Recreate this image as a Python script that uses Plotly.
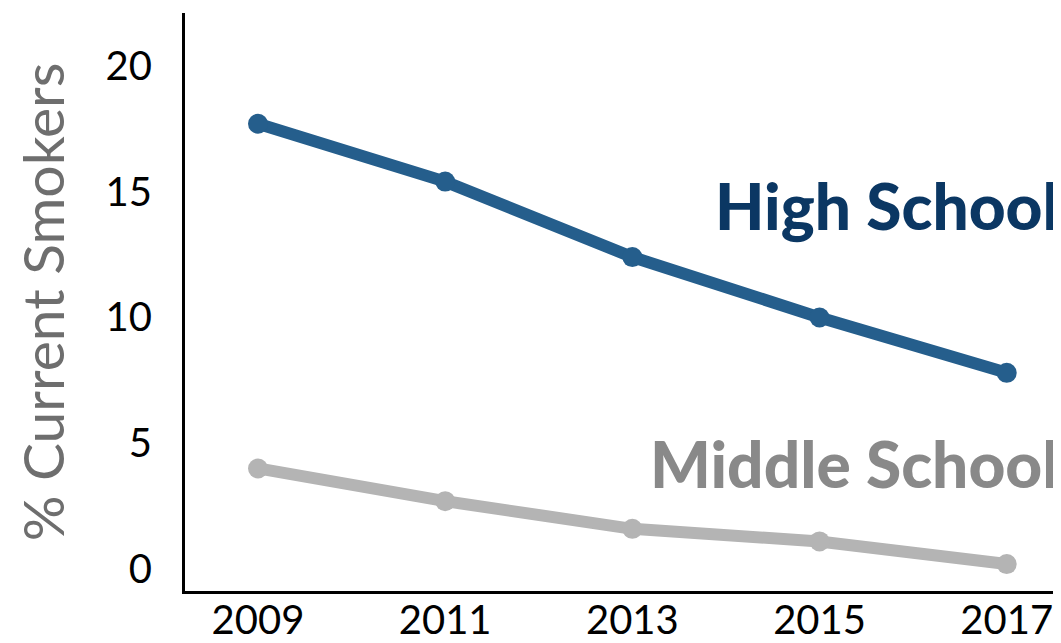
import plotly.graph_objects as go

years = [2009, 2011, 2013, 2015, 2017]
high_school = [17.7, 15.4, 12.4, 10.0, 7.8]
middle_school = [4.0, 2.7, 1.6, 1.1, 0.2]
y_ticks = [0, 5, 10, 15, 20]

HS_LINE = "#255e8c"
HS_TEXT = "#0b3763"
MS_LINE = "#b4b4b4"
MS_TEXT = "#898989"
FONT = "Lato"

fig = go.Figure()
fig.add_trace(go.Scatter(
    x=years, y=middle_school, mode="lines+markers",
    line=dict(color=MS_LINE, width=12),
    marker=dict(color=MS_LINE, size=20),
    name="Middle School", cliponaxis=False,
))
fig.add_trace(go.Scatter(
    x=years, y=high_school, mode="lines+markers",
    line=dict(color=HS_LINE, width=12),
    marker=dict(color=HS_LINE, size=20),
    name="High School", cliponaxis=False,
))

fig.add_annotation(
    text="High School", xref="paper", yref="y", x=1.0, y=14.45,
    xanchor="right", yanchor="middle", showarrow=False,
    font=dict(family=FONT, size=64, color=HS_TEXT, weight=900),
)
fig.add_annotation(
    text="Middle School", xref="paper", yref="y", x=1.0, y=4.2,
    xanchor="right", yanchor="middle", showarrow=False,
    font=dict(family=FONT, size=64, color=MS_TEXT, weight=900),
)

# the page body adds an 8px offset; size the figure so it ends at the window edge
fig.update_layout(
    width=1053, height=635,
    margin=dict(l=177, r=0, t=5, b=43),
    paper_bgcolor="white", plot_bgcolor="white",
    showlegend=False,
    font=dict(family=FONT, color="black"),
)
fig.update_xaxes(
    range=[2008.22, 2017.58], tickvals=years,
    tickfont=dict(family=FONT, size=40, color="black"),
    showgrid=False, zeroline=False,
    showline=True, linecolor="black", linewidth=3,
    ticks="", ticklabelstandoff=-8,
)
fig.update_yaxes(
    range=[-0.87, 22.1], tickvals=y_ticks,
    tickfont=dict(family=FONT, size=40, color="black"),
    showgrid=False, zeroline=False,
    showline=True, linecolor="black", linewidth=3,
    ticks="", ticklabelstandoff=22,
    title=dict(text="% Current Smokers", standoff=30,
               font=dict(family=FONT, size=57, color="#6e6e6e")),
)

fig.write_html("out.html")
